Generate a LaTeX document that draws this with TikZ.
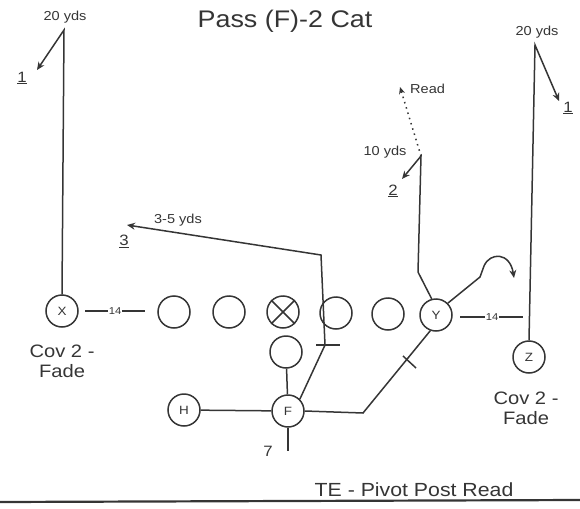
\documentclass[tikz,border=0pt]{standalone}
\usepackage{fontspec}
\setmainfont{Liberation Sans}[FakeStretch=1.12]
\usetikzlibrary{arrows.meta}
\definecolor{ink}{HTML}{353535}
\begin{document}
\begin{tikzpicture}[x=1pt,y=-1pt,
  player/.style={circle,draw=ink,line width=1.5pt,minimum size=32pt,inner sep=0pt,
    text=ink,font=\fontsize{12}{12}\selectfont},
  route/.style={draw=ink,line width=1.5pt},
  arr/.style={-{Stealth[length=8pt,width=7pt]}},
  lbl/.style={text=ink,inner sep=1pt,font=\fontsize{13}{13}\selectfont},
  num/.style={text=ink,inner sep=1pt,font=\fontsize{15}{15}\selectfont},
  big/.style={text=ink,inner sep=1pt,font=\fontsize{18}{20}\selectfont,align=center},
  small/.style={text=ink,inner sep=1pt,font=\fontsize{10}{10}\selectfont}]
\useasboundingbox (0,0) rectangle (580,508);

% title and caption
\node[text=ink,font=\fontsize{24}{24}\selectfont] (title) at (285,21) {Pass (F)-2 Cat};
\node[text=ink,font=\fontsize{19}{19}\selectfont] (cap) at (414,490) {TE - Pivot Post Read};
\coordinate (bl) at (0,502);
\coordinate (br) at (580,500);
\draw[ink,line width=2.2pt] (bl) -- (br);

% players
\node[player] (X) at (62,311) {X};
\node[player] (O1) at (174,312) {};
\node[player] (O2) at (229,312) {};
\node[player] (C) at (283,312) {};
\node[player] (O4) at (336,313) {};
\node[player] (O5) at (388,314) {};
\node[player] (Y) at (436,315) {Y};
\node[player] (Z) at (529,357) {Z};
\node[player] (Q) at (286,352) {};
\node[player] (F) at (288,411) {F};
\node[player] (H) at (184,410) {H};
\draw[ink,line width=1.5pt] (C.north east) -- (C.south west) (C.north west) -- (C.south east);

% split labels
\node[small] (s1) at (115,311) {14};
\coordinate (s1a) at (85,311);
\coordinate (s1b) at (145,311);
\draw[route] (s1a) -- (s1.west) (s1.east) -- (s1b);
\node[small] (s2) at (492,317) {14};
\coordinate (s2a) at (460,317);
\coordinate (s2b) at (523,317);
\draw[route] (s2a) -- (s2.west) (s2.east) -- (s2b);

\node[big] (cx) at (62,361) {Cov 2 -\\Fade};
\node[big] (cz) at (526,408) {Cov 2 -\\Fade};

% X route
\coordinate (xt) at (64,30);
\coordinate (xe) at (37,70);
\draw[route,arr] (X.north) -- (xt) -- (xe);
\node[lbl] (x20) at (65,17) {20 yds};
\node[num] (x1) at (22,78) {\underline{1}};

% Z route
\coordinate (zt) at (535,45);
\coordinate (ze) at (559,101);
\draw[route,arr] (Z.north) -- (zt) -- (ze);
\node[lbl] (z20) at (537,32) {20 yds};
\node[num] (z1) at (568,108) {\underline{1}};

% Y route 2
\coordinate (y2a) at (418,272);
\coordinate (y2b) at (421,156);
\coordinate (y2e) at (402,179);
\coordinate (rd) at (400,87);
\draw[route,arr] (Y.105) -- (y2a) -- (y2b) -- (y2e);
\draw[ink,line width=1.5pt,dash pattern=on 1.5pt off 4pt,-{Stealth[length=7pt,width=6pt]}] (y2b) -- (rd);
\node[lbl,anchor=west] (read) at (409,89) {Read};
\node[lbl] (y10) at (385,152) {10 yds};
\node[num] (y2) at (393,191) {\underline{2}};

% Y outside curl
\coordinate (ya) at (480,277);
\coordinate (yb) at (484,266);
\coordinate (ye) at (514,278);
\draw[route,arr] (Y.north east) -- (ya) -- (yb) .. controls (490,252) and (510,252) .. (ye);

% route 3
\coordinate (r3a) at (325,345);
\coordinate (r3b) at (321,255);
\coordinate (r3e) at (127,225);
\draw[route,arr] (F.north east) -- (r3a) -- (r3b) -- (r3e);
\coordinate (t3a) at (316,345);
\coordinate (t3b) at (340,345);
\draw[route] (t3a) -- (t3b);
\node[lbl] (l35) at (178,220) {3-5 yds};
\node[num] (l3) at (124,241) {\underline{3}};

% backfield
\draw[route] (H) -- (F);
\draw[route] (Q) -- (F);
\coordinate (f7) at (288,451);
\draw[route] (F.south) -- (f7);
\node[num] (n7) at (268,451) {7};
\coordinate (fy) at (363,413);
\draw[route] (F.east) -- (fy) -- (Y.250);
\coordinate (tka) at (403,356);
\coordinate (tkb) at (416,368);
\draw[route] (tka) -- (tkb);
\end{tikzpicture}
\end{document}
